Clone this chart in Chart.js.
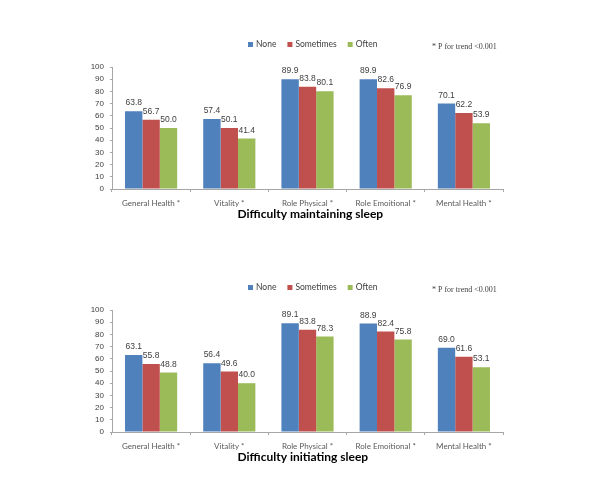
<!DOCTYPE html>
<html>
<head>
<meta charset="utf-8">
<script src="https://cdn.jsdelivr.net/npm/chart.js@4/dist/chart.umd.min.js"></script>
<style>
  html, body { margin: 0; padding: 0; background: #fff; }
  #wrap { position: relative; width: 600px; height: 500px; }
  .panel { position: absolute; left: 0; width: 600px; height: 243px; }
</style>
</head>
<body>
<div id="wrap">
  <div class="panel" style="top:0px"><canvas id="c1" width="600" height="243"></canvas></div>
  <div class="panel" style="top:243px"><canvas id="c2" width="600" height="243"></canvas></div>
</div>
<script>
// ---- Data ----
const categories = ["General Health *", "Vitality *", "Role Physical *", "Role Emoitional *", "Mental Health *"];
const seriesNames = ["None", "Sometimes", "Often"];
const seriesColors = ["#4F81BD", "#C0504D", "#9BBB59"];

const maintainNone      = [63.8, 57.4, 89.9, 89.9, 70.1];
const maintainSometimes = [56.7, 50.1, 83.8, 82.6, 62.2];
const maintainOften     = [50.0, 41.4, 80.1, 76.9, 53.9];

const initiateNone      = [63.1, 56.4, 89.1, 88.9, 69.0];
const initiateSometimes = [55.8, 49.6, 83.8, 82.4, 61.6];
const initiateOften     = [48.8, 40.0, 78.3, 75.8, 53.1];

const yTicks = [0, 10, 20, 30, 40, 50, 60, 70, 80, 90, 100];
const noteText = "* P for trend <0.001";
const titles = ["Difficulty maintaining sleep", "Difficulty initiating sleep"];

// ---- Plugins ----
const labelPlugin = {
  id: 'valueLabels',
  afterDatasetsDraw(chart) {
    const ctx = chart.ctx;
    ctx.save();
    ctx.font = '8.5px "Liberation Sans", Arial, sans-serif';
    ctx.fillStyle = '#404040';
    ctx.textAlign = 'center';
    ctx.textBaseline = 'bottom';
    chart.data.datasets.forEach((ds, i) => {
      const meta = chart.getDatasetMeta(i);
      meta.data.forEach((el, j) => {
        ctx.fillText(ds.data[j].toFixed(1), el.x, el.y - 4);
      });
    });
    ctx.restore();
  }
};

const decorPlugin = {
  id: 'decor',
  afterDraw(chart, args, opts) {
    const ctx = chart.ctx;
    ctx.save();
    // legend
    ctx.font = '8.5px Lato, "Open Sans", sans-serif';
    ctx.textBaseline = 'middle';
    ctx.textAlign = 'left';
    let x = 248;
    const ly = 44.5;
    chart.data.datasets.forEach((ds) => {
      ctx.fillStyle = ds.backgroundColor;
      ctx.fillRect(x, ly - 2.5, 5, 5);
      ctx.fillStyle = '#404040';
      ctx.fillText(ds.label, x + 8, ly);
      x += 8 + ctx.measureText(ds.label).width + 11;
    });
    // note
    ctx.font = '8px "Liberation Serif", "Times New Roman", serif';
    ctx.fillStyle = '#404040';
    ctx.fillText(opts.note, 432, 46.5);
    // title
    ctx.font = 'bold 12px Lato, "Open Sans", sans-serif';
    ctx.fillStyle = '#000';
    ctx.fillText(opts.title, 237.5, 214.5);
    ctx.restore();
  }
};

function makeChart(id, none, some, often, title) {
  const dataArrays = [none, some, often];
  return new Chart(document.getElementById(id), {
    type: 'bar',
    data: {
      labels: categories,
      datasets: seriesNames.map((n, i) => ({
        label: n,
        data: dataArrays[i],
        backgroundColor: seriesColors[i],
        borderWidth: 0,
        categoryPercentage: 0.667,
        barPercentage: 1.0
      }))
    },
    options: {
      responsive: false,
      animation: false,
      layout: { padding: { left: 0, right: 97, top: 67, bottom: 0 } },
      plugins: {
        legend: { display: false },
        tooltip: { enabled: false },
        decor: { title: title, note: noteText }
      },
      scales: {
        x: {
          offset: true,
          grid: { display: true, offset: true, drawOnChartArea: false, drawTicks: true, tickLength: 3, color: '#A6A6A6' },
          border: { display: true, color: '#A6A6A6', width: 1 },
          ticks: {
            font: { family: 'Lato, "Open Sans", sans-serif', size: 8 },
            color: '#595959',
            padding: 7,
            maxRotation: 0,
            autoSkip: false
          },
          afterFit(s) { s.height = 54; }
        },
        y: {
          min: 0, max: 100,
          afterBuildTicks(s) { s.ticks = yTicks.map(v => ({ value: v })); },
          grid: { display: true, drawOnChartArea: false, drawTicks: true, tickLength: 2, color: '#A6A6A6' },
          border: { display: true, color: '#A6A6A6', width: 1 },
          ticks: {
            stepSize: 10,
            autoSkip: false,
            font: { family: '"Liberation Sans", Arial, sans-serif', size: 8 },
            color: '#404040',
            padding: 6
          },
          afterFit(s) { s.width = 112; }
        }
      }
    },
    plugins: [labelPlugin, decorPlugin]
  });
}

makeChart('c1', maintainNone, maintainSometimes, maintainOften, titles[0]);
makeChart('c2', initiateNone, initiateSometimes, initiateOften, titles[1]);
</script>
</body>
</html>
